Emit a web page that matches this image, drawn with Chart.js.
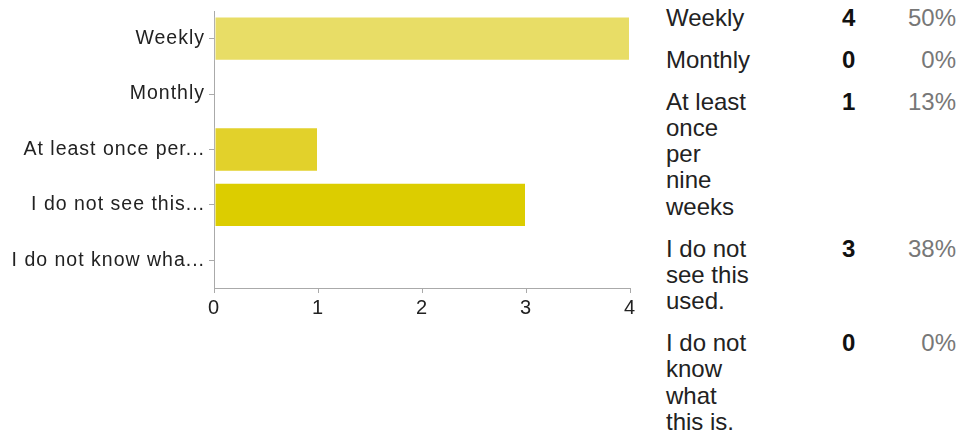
<!DOCTYPE html>
<html>
<head>
<meta charset="utf-8">
<script src="https://cdn.jsdelivr.net/npm/chart.js@4.4.1/dist/chart.umd.min.js"></script>
<style>
  html, body { margin: 0; padding: 0; background: #fff; }
  body { width: 962px; height: 432px; position: relative; overflow: hidden; font-family: Arial, "Liberation Sans", Helvetica, sans-serif; }
  #chartBox { position: absolute; left: 0; top: 0; width: 650px; height: 432px; }
  #summary { position: absolute; left: 666px; top: 5px; border-collapse: collapse; font-size: 24px; line-height: 26.3px; color: #222; }
  #summary td { padding: 0 0 15.5px 0; vertical-align: top; }
  #summary td.lbl { width: 176px; }
  #summary td.lbl div { width: 85px; }
  #summary td.cnt { width: 40px; font-weight: bold; color: #111; }
  #summary td.pct { width: 74px; text-align: right; color: #777; }
</style>
</head>
<body>
<div id="chartBox"><canvas id="bars" width="650" height="432"></canvas></div>
<table id="summary"></table>
<script>
// answers as shown in the side table, and the cut-down axis labels
const answers = ['Weekly', 'Monthly', 'At least once per nine weeks', 'I do not see this used.', 'I do not know what this is.'];
const axisLabels = ['Weekly', 'Monthly', 'At least once per...', 'I do not see this...', 'I do not know wha...'];
const counts = [4, 0, 1, 3, 0];
const percents = ['50%', '0%', '13%', '38%', '0%'];
const barColors = ['#e8dd66', '#e6da55', '#e2d12b', '#dccd00', '#d8c800'];
const xTicks = [0, 1, 2, 3, 4];

// side table
(function(){
  const tbl = document.getElementById('summary');
  answers.forEach((a, i) => {
    const tr = document.createElement('tr');
    const l = document.createElement('td'); l.className = 'lbl';
    const d = document.createElement('div'); d.textContent = a; l.appendChild(d);
    const c = document.createElement('td'); c.className = 'cnt'; c.textContent = counts[i];
    const p = document.createElement('td'); p.className = 'pct'; p.textContent = percents[i];
    tr.appendChild(l); tr.appendChild(c); tr.appendChild(p);
    tbl.appendChild(tr);
  });
})();

// wider label spacing like the original render
const spacing = {
  id: 'spacing',
  beforeLayout(chart){ chart.ctx.letterSpacing = '1px'; },
  beforeDraw(chart){ chart.ctx.letterSpacing = '1px'; }
};

const axisColor = '#aaaaaa';

new Chart(document.getElementById('bars').getContext('2d'), {
  type: 'bar',
  data: {
    labels: axisLabels,
    datasets: [{
      data: counts,
      backgroundColor: barColors,
      borderColor: 'rgba(255,255,255,0.35)',
      borderWidth: 1,
      borderSkipped: false,
      barPercentage: 0.8,
      categoryPercentage: 1.0
    }]
  },
  options: {
    indexAxis: 'y',
    responsive: false,
    animation: false,
    layout: { padding: { top: 11, right: 20, left: 0, bottom: 0 } },
    plugins: { legend: { display: false }, tooltip: { enabled: false } },
    scales: {
      x: {
        min: xTicks[0], max: xTicks[xTicks.length - 1],
        afterBuildTicks: (s) => { s.ticks = xTicks.map(v => ({ value: v })); },
        afterFit: (s) => { s.height = 144; s.paddingLeft = 0; s.paddingRight = 0; },
        grid: { drawOnChartArea: false, tickLength: 5, color: axisColor },
        border: { color: axisColor, width: 1 },
        ticks: { color: '#222', padding: 3, font: { family: 'Arial, "Liberation Sans", sans-serif', size: 20 } }
      },
      y: {
        afterFit: (s) => { s.width = 214; s.paddingTop = 0; s.paddingBottom = 0; },
        grid: { drawOnChartArea: false, offset: false, tickLength: 5, color: axisColor },
        border: { color: axisColor, width: 1 },
        ticks: { color: '#222', padding: 4, font: { family: 'Arial, "Liberation Sans", sans-serif', size: 19.5 } }
      }
    }
  },
  plugins: [spacing]
});
</script>
</body>
</html>
